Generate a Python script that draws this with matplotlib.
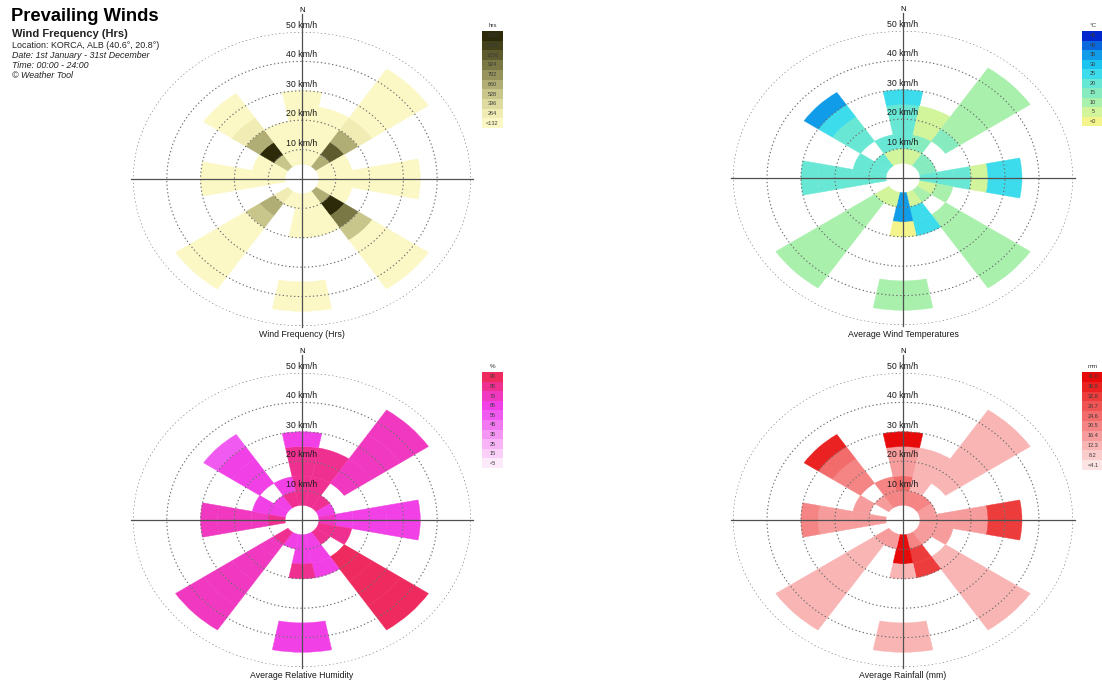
import numpy as np
import matplotlib
matplotlib.use('Agg')
import matplotlib.pyplot as plt

plt.rcParams['font.family'] = ['Liberation Sans', 'DejaVu Sans']

n = np.nan

# 16 compass points, clockwise from north; speed bins every 5 km/h
directions = ['N', 'NNE', 'NE', 'ENE', 'E', 'ESE', 'SE', 'SSE',
              'S', 'SSW', 'SW', 'WSW', 'W', 'WNW', 'NW', 'NNW']
speed_edges = [0, 5, 10, 15, 20, 25, 30, 35, 40, 45, 50]
ring_speeds = [10, 20, 30, 40, 50]

# hours per direction / speed bin
freq_hrs = [
    [n, 60, 70, 60, 40, 30, n, n, n, n],
    [n, 40, 50, 40, 20, n, n, n, n, n],
    [n, 600, 1000, 560, 150, 90, 70, 50, 30, n],
    [n, 30, 20, n, n, n, n, n, n, n],
    [n, 50, 80, 90, 70, 60, 40, n, n, n],
    [n, 40, 30, n, n, n, n, n, n, n],
    [n, 560, 1250, 820, 400, 110, 90, 70, 40, n],
    [n, 30, 40, 30, n, n, n, n, n, n],
    [n, 40, 60, 50, n, n, n, 40, 30, n],
    [n, 20, n, n, n, n, n, n, n, n],
    [n, 140, 560, 520, 130, 90, 80, 60, 40, n],
    [n, n, n, n, n, n, n, n, n, n],
    [n, 70, 90, 100, 80, 50, n, n, n, n],
    [n, 40, 30, n, n, n, n, n, n, n],
    [n, 420, 1300, 640, 250, 100, 70, n, n, n],
    [n, 40, 40, 20, n, n, n, n, n, n],
]

# average temperature (C)
temp_c = [
    [n, 3, 17, 17, 17, 22, n, n, n, n],
    [n, 3, 12, 3, 3, n, n, n, n, n],
    [n, 12, n, 12, 7, 7, 7, 7, 7, n],
    [n, 12, n, n, n, n, n, n, n, n],
    [n, 17, 17, 17, 3, 22, 22, n, n, n],
    [n, 3, 7, n, n, n, n, n, n, n],
    [n, 7, n, 7, 7, 7, 7, 7, 7, n],
    [n, 3, 22, 22, n, n, n, n, n, n],
    [n, 32, 32, -2, n, n, n, 7, 7, n],
    [n, 3, n, n, n, n, n, n, n, n],
    [n, 3, 7, 7, 7, 7, 7, 7, 7, n],
    [n, n, n, n, n, n, n, n, n, n],
    [n, 17, 17, 17, 17, 17, n, n, n, n],
    [n, 17, 17, n, n, n, n, n, n, n],
    [n, 17, n, 17, 17, 22, 32, n, n, n],
    [n, 3, 17, n, n, n, n, n, n, n],
]

# average relative humidity (%)
humidity_pct = [
    [n, 80, 80, 80, 80, 60, n, n, n, n],
    [n, 80, 80, 80, 80, n, n, n, n, n],
    [n, 80, n, 68, 65, 65, 65, 65, 65, n],
    [n, 60, n, n, n, n, n, n, n, n],
    [n, 65, 62, 62, 62, 60, 60, n, n, n],
    [n, 82, 82, n, n, n, n, n, n, n],
    [n, 82, n, 88, 88, 88, 88, 86, 86, n],
    [n, 60, 60, 60, n, n, n, n, n, n],
    [n, 60, 60, 80, n, n, n, 60, 60, n],
    [n, 60, n, n, n, n, n, n, n, n],
    [n, 75, 72, 72, 72, 72, 72, 72, 72, n],
    [n, n, n, n, n, n, n, n, n, n],
    [n, 82, 70, 70, 70, 72, n, n, n, n],
    [n, 60, 60, n, n, n, n, n, n, n],
    [n, 60, n, 62, 60, 55, 52, n, n, n],
    [n, 78, 60, n, n, n, n, n, n, n],
]

# average rainfall (mm)
rain_mm = [
    [n, 20, 22, 15, 15, 40, n, n, n, n],
    [n, 20, 12, 10, 10, n, n, n, n, n],
    [n, 18, n, 12, 12, 12, 12, 11, 11, n],
    [n, 15, n, n, n, n, n, n, n, n],
    [n, 14, 14, 14, 14, 30, 30, n, n, n],
    [n, 16, 16, n, n, n, n, n, n, n],
    [n, 16, n, 12, 12, 12, 12, 12, 12, n],
    [n, 20, 32, 32, n, n, n, n, n, n],
    [n, 42, 42, 9, n, n, n, 9, 9, n],
    [n, 16, n, n, n, n, n, n, n, n],
    [n, 14, 11, 11, 11, 11, 11, 11, 11, n],
    [n, n, n, n, n, n, n, n, n, n],
    [n, 14, 15, 15, 15, 18, n, n, n, n],
    [n, n, 15, n, n, n, n, n, n, n],
    [n, 15, n, 17, 17, 22, 35, n, n, n],
    [n, 18, 18, n, n, n, n, n, n, n],
]

# key labels, bottom to top
freq_labels = ['<132', '264', '396', '528', '660', '792', '924', '1056', '1188', '1320']
temp_labels = ['<0', '5', '10', '15', '20', '25', '30', '35', '40', '45']
hum_labels = ['<5', '15', '25', '35', '45', '55', '65', '75', '85', '95']
rain_labels = ['<4.1', '8.2', '12.3', '16.4', '20.5', '24.6', '28.7', '32.8', '36.9', '41.0']

freq_edges = [132, 264, 396, 528, 660, 792, 924, 1056, 1188]
temp_edges = [0, 5, 10, 15, 20, 25, 30, 35, 40]
hum_edges = [5, 15, 25, 35, 45, 55, 65, 75, 85]
rain_edges = [4.1, 8.2, 12.3, 16.4, 20.5, 24.6, 28.7, 32.8, 36.9]

freq_cols = ['#fcf8c6', '#f0ecb4', '#dedba0', '#c8c68a', '#b0ae74', '#96945c',
             '#7a7844', '#5e5c2e', '#44421a', '#2c2a08']
temp_cols = ['#f4f48c', '#d2f49a', '#a8f0ac', '#86ecc0', '#68e8d4', '#3cdcec',
             '#1cc4f0', '#109ce8', '#0868dc', '#0028cc']
hum_cols = ['#fdeafa', '#fbd0f8', '#f8b4f6', '#f596f4', '#f278f2', '#f05af0',
            '#f040e6', '#f038c0', '#f03090', '#ee2a5e']
rain_cols = ['#fde4e4', '#fbcccc', '#f9b4b4', '#f79c9c', '#f58484', '#f36c6c',
             '#f05454', '#ed3c3c', '#ea2222', '#e60a0a']

W, H = 1102, 684
fig = plt.figure(figsize=(W / 100, H / 100), dpi=100)


def px_rect(x0, y0, x1, y1):
    return [x0 / W, 1 - y1 / H, (x1 - x0) / W, (y1 - y0) / H]


def draw_rose(rect, values, edges, cols, caption, cap_y):
    ax = fig.add_axes(rect, projection='polar')
    ax.set_aspect('auto')
    ax.set_theta_zero_location('N')
    ax.set_theta_direction(-1)
    ax.set_ylim(0, 50)
    ax.set_axis_off()

    vals = np.array(values, dtype=float)
    step = 2 * np.pi / len(directions)
    th, bot, col = [], [], []
    for i in range(vals.shape[0]):
        for j in range(vals.shape[1]):
            v = vals[i, j]
            if np.isnan(v):
                continue
            th.append(i * step)
            bot.append(speed_edges[j])
            col.append(cols[np.searchsorted(edges, v, side='right')])
    ax.bar(th, 5, width=step, bottom=bot, color=col, edgecolor=col,
           linewidth=0.3, zorder=2)

    t = np.linspace(0, 2 * np.pi, 400)
    for r in ring_speeds:
        ax.plot(t, np.full_like(t, r), color='#6a6a6a', lw=0.8,
                ls=(0, (1.2, 2.2)), zorder=3)
        ax.annotate(f'{r} km/h', xy=(0, r), xytext=(0, 1.5),
                    textcoords='offset points', ha='center', va='bottom',
                    fontsize=6.3, color='#1a1a1a', zorder=5,
                    annotation_clip=False)

    # compass cross
    kw = dict(color='#505050', lw=0.9, zorder=4, clip_on=False)
    ax.plot([0, 0], [0, 56], **kw)
    ax.plot([np.pi, np.pi], [0, 50.5], **kw)
    ax.plot([np.pi / 2, np.pi / 2], [0, 50.5], **kw)
    ax.plot([1.5 * np.pi, 1.5 * np.pi], [0, 50.5], **kw)
    ax.annotate('N', xy=(0, 56), xytext=(0, 0), textcoords='offset points',
                ha='center', va='bottom', fontsize=5.5, annotation_clip=False)

    cx = rect[0] + rect[2] / 2
    fig.text(cx, 1 - cap_y / H, caption, ha='center', va='center',
             fontsize=6.3, color='#1a1a1a')
    return ax


def draw_key(rect, cols, labels, unit):
    kax = fig.add_axes(rect)
    kax.bar(np.zeros(len(cols)), 1, bottom=np.arange(len(cols)), width=1,
            color=cols, edgecolor='none')
    kax.set_xlim(-0.5, 0.5)
    kax.set_ylim(0, len(cols))
    kax.axis('off')
    for i, lab in enumerate(labels):
        kax.text(0, i + 0.5, lab, ha='center', va='center', fontsize=4,
                 color='#3a3a3a')
    kax.text(0, len(cols) + 0.3, unit, ha='center', va='bottom',
             fontsize=4.5, color='#333333', clip_on=False)


draw_rose(px_rect(133, 32, 471, 326), freq_hrs, freq_edges, freq_cols,
          'Wind Frequency (Hrs)', 335)
draw_rose(px_rect(733, 31, 1073, 325), temp_c, temp_edges, temp_cols,
          'Average Wind Temperatures', 335)
draw_rose(px_rect(133, 373, 471, 667), humidity_pct, hum_edges, hum_cols,
          'Average Relative Humidity', 676)
draw_rose(px_rect(733, 373, 1073, 667), rain_mm, rain_edges, rain_cols,
          'Average Rainfall (mm)', 676)

draw_key(px_rect(482, 31, 503, 128), freq_cols, freq_labels, 'hrs')
draw_key(px_rect(1082, 31, 1104, 126), temp_cols, temp_labels, '°C')
draw_key(px_rect(482, 372, 503, 468), hum_cols, hum_labels, '%')
draw_key(px_rect(1082, 372, 1104, 470), rain_cols, rain_labels, 'mm')

# header block
fig.text(11 / W, 1 - 8 / H, 'Prevailing Winds', fontsize=13.2,
         fontweight='bold', va='top', ha='left')
fig.text(12 / W, 1 - 29 / H, 'Wind Frequency (Hrs)', fontsize=8,
         fontweight='bold', va='top', ha='left', color='#222222')
fig.text(12 / W, 1 - 41 / H, 'Location: KORCA, ALB (40.6°, 20.8°)',
         fontsize=6.4, va='top', ha='left', color='#222222')
fig.text(12 / W, 1 - 51.5 / H, 'Date: 1st January - 31st December',
         fontsize=6.4, style='italic', va='top', ha='left', color='#222222')
fig.text(12 / W, 1 - 61.5 / H, 'Time: 00:00 - 24:00', fontsize=6.4,
         style='italic', va='top', ha='left', color='#222222')
fig.text(12 / W, 1 - 71.5 / H, '© Weather Tool', fontsize=6.4,
         style='italic', va='top', ha='left', color='#222222')

fig.savefig('out.png', dpi=100)
